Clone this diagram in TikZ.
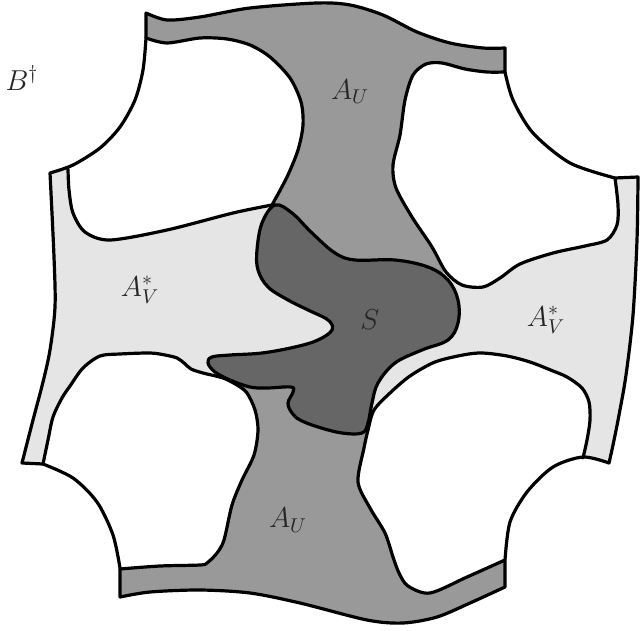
\documentclass[tikz,border=0pt]{standalone}
\definecolor{lightg}{HTML}{E5E5E5}
\definecolor{midg}{HTML}{999999}
\definecolor{darkg}{HTML}{666666}
\newcommand{\OuterShape}[1]{\path[#1] (146,38) -- (146,13)
 -- plot[smooth] coordinates {(146,13) (167,20) (200,17) (250,8) (317,3) (350,5) (383,15) (417,32) (450,43) (483,48) (505,48)}
 -- (505,72)
 -- plot[smooth] coordinates {(505,72) (513,100) (533,133) (570,163) (615,178)}
 -- (638,177)
 -- plot[smooth] coordinates {(638,177) (637,240) (633,315) (626,375) (619,415) (613,445) (609,463)}
 -- plot[smooth] coordinates {(609,463) (583,457) (553,467) (527,492) (510,522) (505,560)}
 -- (505,587)
 -- plot[smooth] coordinates {(505,587) (470,603) (437,617) (403,623) (367,620) (300,603) (250,593) (200,590) (150,592) (120,597)}
 -- (120,568)
 -- plot[smooth] coordinates {(120,568) (113,535) (97,502) (73,478) (43,464)}
 -- (22,463)
 -- plot[smooth] coordinates {(22,463) (33,420) (43,382) (50,350) (55,307) (54,257) (50,173)}
 -- plot[smooth] coordinates {(50,173) (73,165) (100,148) (120,127) (135,100) (143,70) (146,38)}
 -- cycle;}
\newcommand{\TLhole}{plot[smooth] coordinates {(146,38) (167,43) (200,38) (227,39) (250,45) (270,57) (290,78) (301,102) (303,125) (298,150) (287,177) (272,205)}
 -- plot[smooth] coordinates {(272,205) (233,213) (167,230) (110,240) (85,232) (73,213) (69,190) (68,169)}}
\newcommand{\TRhole}{plot[smooth] coordinates {(505,72) (487,72) (465,69) (442,63) (426,64) (413,75) (405,100) (400,135) (393,165) (396,188) (412,217) (432,247) (446,272) (462,285) (483,287) (500,278) (520,264) (553,253) (585,246) (607,240) (617,225) (618,205) (615,178)}}
\newcommand{\BLhole}{plot[smooth] coordinates {(43,464) (48,440) (53,417) (62,398) (70,386) (83,368) (100,356) (120,354) (150,353) (165,355) (177,358) (184,363) (191,369) (203,373) (223,378) (237,385) (247,393) (255,410) (258,430) (254,455) (242,480) (232,505) (224,540) (217,553) (207,563) (200,565) (160,566) (120,569)}}
\newcommand{\BRhole}{plot[smooth] coordinates {(583,458) (587,440) (590,420) (589,402) (582,388) (567,377) (553,371) (530,362) (507,356) (482,353) (463,355) (435,362) (410,376) (390,393) (374,410) (368,430) (364,448) (358,482) (370,508) (385,533) (393,557) (399,573) (408,586) (430,593) (467,577) (505,560)}}
\begin{document}
\begin{tikzpicture}[x=0.5pt,y=-0.5pt,line join=round,line cap=round,
  edge/.style={line width=1.6pt},
  lab/.style={font=\fontsize{14.4}{17}\selectfont,inner sep=0pt,text=black!85}]
\useasboundingbox (0,0) rectangle (640,630);
% light grey body
\OuterShape{fill=lightg}
% medium grey band (clipped to body)
\begin{scope}
\OuterShape{clip}
\fill[midg] (140,-10) -- (530,-10) -- (520,90) -- (470,160) -- (443,273) -- (405,300) -- (360,380) -- (373,412) -- (450,500) -- (520,540) -- (530,640) -- (100,640) -- (110,560) -- (180,480) -- (238,387) -- (290,375) -- (350,340) -- (340,290) -- (272,205) -- (200,120) -- (140,60) -- cycle;
\end{scope}
% white holes
\fill[white] \TLhole -- (60,150) -- (-5,150) -- (-5,-5) -- (146,-5) -- cycle;
\fill[white] \TRhole -- (640,172) -- (645,-5) -- (505,-5) -- cycle;
\fill[white] \BLhole -- (-5,640) -- (-5,467) -- cycle;
\fill[white] \BRhole -- (645,640) -- (645,470) -- cycle;
% separator S
\draw[edge,fill=darkg] plot[smooth cycle,tension=0.6] coordinates {(275,205) (292,213) (312,233) (335,253) (355,260) (395,260) (428,267) (448,280) (458,300) (458,323) (448,340) (422,350) (395,363) (378,383) (372,403) (368,423) (362,433) (342,433) (318,427) (300,420) (292,413) (288,403) (293,392) (291,387) (267,388) (250,387) (230,380) (215,372) (208,363) (212,357) (230,355) (262,353) (295,347) (318,340) (332,330) (328,320) (308,310) (288,300) (268,287) (258,270) (257,250) (262,223)};
% hole edges
\draw[edge] \TLhole;
\draw[edge] \TRhole;
\draw[edge] \BLhole;
\draw[edge] \BRhole;
% outer boundary
\OuterShape{draw,edge}
% labels
\node[lab] (b) at (22,78) {$B^\dagger$};
\node[lab] (au1) at (350,92) {$A_U$};
\node[lab] (au2) at (288,520) {$A_U$};
\node[lab] (av1) at (140,290) {$A_V^*$};
\node[lab] (av2) at (546,320) {$A_V^*$};
\node[lab] (s) at (370,320) {$S$};
\end{tikzpicture}
\end{document}
